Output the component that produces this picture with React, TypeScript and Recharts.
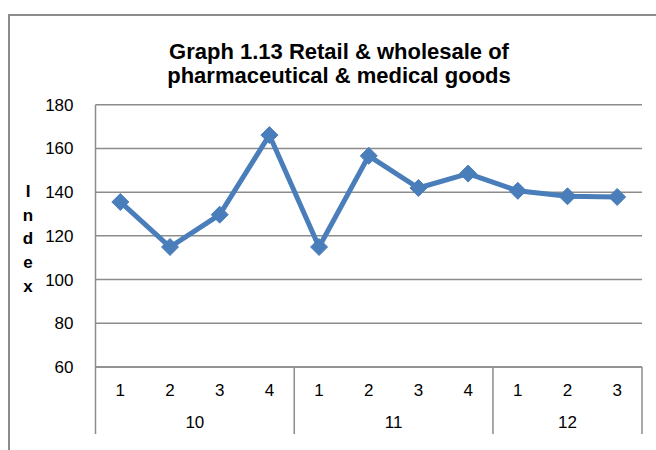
import React from 'react';
import {
  LineChart,
  Line,
  XAxis,
  YAxis,
  CartesianGrid,
} from 'recharts';

const years = ['10', '10', '10', '10', '11', '11', '11', '11', '12', '12', '12'];
const quarters = ['1', '2', '3', '4', '1', '2', '3', '4', '1', '2', '3'];
const indexValues = [135.5, 114.9, 129.7, 166.1, 114.9, 156.6, 141.9, 148.5, 140.6, 138.1, 137.8];
const yTicks = [60, 80, 100, 120, 140, 160, 180];
const titleLines = ['Graph 1.13 Retail & wholesale of', 'pharmaceutical & medical goods'];
const yLabel = 'Index';

const data = years.map((year, i) => ({
  key: `${year}-${quarters[i]}`,
  year,
  quarter: quarters[i],
  value: indexValues[i],
}));

const FONT = '"Liberation Sans", Arial, sans-serif';
const BLUE = '#4A7EBB';
const GRID = '#8c8c8c';

// diamond marker like the excel default
const Diamond = (props: any) => {
  const { cx, cy } = props;
  if (cx == null || cy == null) return null;
  const r = 8.5;
  return (
    <polygon
      points={`${cx},${cy - r} ${cx + r},${cy} ${cx},${cy + r} ${cx - r},${cy}`}
      fill={BLUE}
      stroke={BLUE}
      strokeWidth={1}
    />
  );
};

// two level category axis: quarter on top, year below, separators between years
const QuarterYearTick = (props: any) => {
  const { x, y, payload, index, width } = props;
  const i = payload?.index ?? index ?? 0;
  const row = data[i];
  if (!row) return null;
  const half = payload?.offset > 0 ? payload.offset : (width ?? 546) / data.length / 2;
  const isFirst = i === 0 || data[i - 1].year !== row.year;
  const isLast = i === data.length - 1;
  const groupSize = data.filter((d) => d.year === row.year).length;
  return (
    <g>
      <text x={x} y={y + 29} textAnchor="middle" fontSize={17} fill="#000" fontFamily={FONT}>
        {row.quarter}
      </text>
      {isFirst && (
        <>
          <line x1={x - half} x2={x - half} y1={y} y2={y + 67} stroke={GRID} strokeWidth={1.5} />
          <text
            x={x + (groupSize - 1) * half}
            y={y + 61}
            textAnchor="middle"
            fontSize={17}
            fill="#000"
            fontFamily={FONT}
          >
            {row.year}
          </text>
        </>
      )}
      {isLast && (
        <line x1={x + half} x2={x + half} y1={y} y2={y + 67} stroke={GRID} strokeWidth={1.5} />
      )}
    </g>
  );
};

const StackedLabel = (props: any) => {
  const { viewBox } = props;
  const cx = viewBox.x + 28;
  const cy = viewBox.y + viewBox.height / 2 + 3;
  const letters = yLabel.split('');
  return (
    <g>
      {letters.map((ch, i) => (
        <text
          key={i}
          x={cx}
          y={cy + (i - (letters.length - 1) / 2) * 23.75}
          textAnchor="middle"
          dominantBaseline="central"
          fontSize={17}
          fontWeight="bold"
          fontFamily={FONT}
          fill="#000"
        >
          {ch}
        </text>
      ))}
    </g>
  );
};

const App: React.FC = () => {
  return (
    <div
      style={{
        position: 'absolute',
        left: 0,
        top: 0,
        width: 656,
        height: 450,
        overflow: 'hidden',
        background: '#fff',
        fontFamily: FONT,
      }}
    >
      <div
        style={{
          position: 'absolute',
          left: 8,
          top: 14,
          width: 700,
          height: 500,
          border: `2px solid ${GRID}`,
          boxSizing: 'border-box',
        }}
      />
      <div
        style={{
          position: 'absolute',
          left: 8,
          top: 40,
          width: 662,
          textAlign: 'center',
          fontWeight: 'bold',
          fontSize: 22,
          lineHeight: '24px',
          color: '#000',
        }}
      >
        {titleLines.map((t) => (
          <div key={t}>{t}</div>
        ))}
      </div>
      <div style={{ position: 'absolute', left: 0, top: 0 }}>
        <LineChart
          width={656}
          height={450}
          data={data}
          margin={{ top: 104.7, right: 14, left: 0, bottom: 0 }}
          style={{ fontFamily: FONT }}
        >
          <CartesianGrid vertical={false} stroke={GRID} strokeWidth={1.5} />
          <XAxis
            dataKey="key"
            scale="band"
            height={83}
            tickLine={false}
            tickSize={0}
            tickMargin={0}
            interval={0}
            axisLine={{ stroke: GRID, strokeWidth: 1.5 }}
            tick={<QuarterYearTick />}
          />
          <YAxis
            domain={[60, 180]}
            ticks={yTicks}
            width={95.5}
            tickLine={false}
            tickMargin={16}
            axisLine={{ stroke: GRID, strokeWidth: 1.5 }}
            tick={{ fill: '#000', fontSize: 17, fontFamily: FONT }}
            label={<StackedLabel />}
          />
          <Line
            type="linear"
            dataKey="value"
            stroke={BLUE}
            strokeWidth={5}
            dot={<Diamond />}
            activeDot={false}
            isAnimationActive={false}
          />
        </LineChart>
      </div>
    </div>
  );
};

export default App;
